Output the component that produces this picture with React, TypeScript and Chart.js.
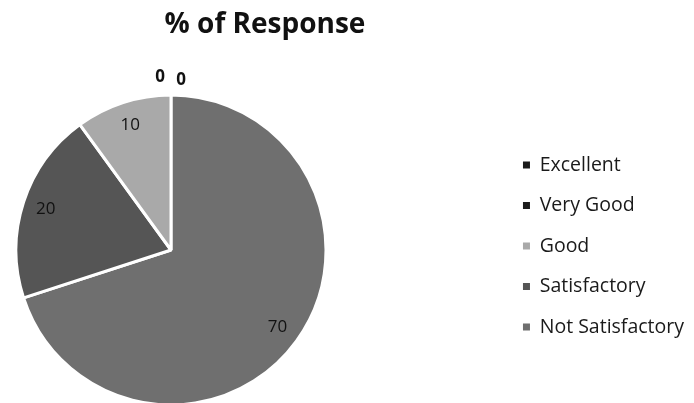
import React, { useEffect, useRef } from "react";
import { Chart, registerables } from "chart.js";

Chart.register(...registerables);

const TITLE = "% of Response";
// data order follows the clockwise slice order from 12 o'clock; legend is shown reversed
const categories = ["Not Satisfactory", "Satisfactory", "Good", "Very Good", "Excellent"];
const values = [70, 20, 10, 0, 0];
const sliceColors = ["#6f6f6f", "#555555", "#a9a9a9", "#1c1c1c", "#1a1a1a"];

const PIE_CX = 171;
const PIE_CY = 250;
const PIE_R = 155;
const FONT = "'Open Sans'";

const pieArea = {
  id: "pieArea",
  afterLayout(chart: any) {
    const a = chart.chartArea;
    a.left = PIE_CX - PIE_R;
    a.right = PIE_CX + PIE_R;
    a.top = PIE_CY - PIE_R;
    a.bottom = PIE_CY + PIE_R;
    a.width = 2 * PIE_R;
    a.height = 2 * PIE_R;
  },
};

const sliceLabels = {
  id: "sliceLabels",
  afterDatasetsDraw(chart: any) {
    const ctx = chart.ctx;
    const meta = chart.getDatasetMeta(0);
    const data = chart.data.datasets[0].data as number[];
    let zeroIdx = 0;
    meta.data.forEach((arc: any, i: number) => {
      const v = data[i];
      const { x, y, startAngle, endAngle, outerRadius } = arc.getProps(
        ["x", "y", "startAngle", "endAngle", "outerRadius"],
        true
      );
      const mid = (startAngle + endAngle) / 2;
      ctx.save();
      ctx.fillStyle = "#111111";
      ctx.textAlign = "center";
      ctx.textBaseline = "middle";
      if (v > 0) {
        ctx.font = `17px ${FONT}`;
        const r = outerRadius * 0.85;
        ctx.fillText(String(v), x + Math.cos(mid) * r, y + Math.sin(mid) * r);
      } else {
        ctx.font = `bold 17px ${FONT}`;
        const r = outerRadius + 18;
        const dx = zeroIdx === 0 ? 10 : -11;
        const dy = zeroIdx === 0 ? 3 : 0;
        ctx.fillText(String(v), x + Math.cos(mid) * r + dx, y + Math.sin(mid) * r + dy);
        zeroIdx++;
      }
      ctx.restore();
    });
  },
};

export default function App() {
  const ref = useRef<HTMLCanvasElement | null>(null);
  useEffect(() => {
    if (!ref.current) return;
    const baseLabels = (Chart as any).overrides.pie.plugins.legend.labels.generateLabels;
    const chart = new Chart(ref.current, {
      type: "pie",
      data: {
        labels: categories,
        datasets: [
          {
            data: values,
            backgroundColor: sliceColors,
            borderColor: "#ffffff",
            borderWidth: 3,
            radius: PIE_R,
          } as any,
        ],
      },
      options: {
        responsive: false,
        animation: false,
        layout: { padding: { left: 28, right: 0, top: 0, bottom: 0 } },
        plugins: {
          title: {
            display: true,
            text: TITLE,
            fullSize: false,
            color: "#111111",
            font: { family: FONT, size: 28, weight: "bold" },
            padding: { top: 8, bottom: 47.6 },
          },
          legend: {
            position: "right",
            fullSize: false,
            reverse: true,
            labels: {
              boxWidth: 7,
              boxHeight: 7,
              padding: 21,
              color: "#1a1a1a",
              font: { family: FONT, size: 19.5 },
              generateLabels: (c: any) =>
                baseLabels(c).map((l: any) => ({ ...l, lineWidth: 0, strokeStyle: l.fillStyle })),
            },
          },
          tooltip: { enabled: false },
        },
      },
      plugins: [pieArea, sliceLabels],
    });
    return () => chart.destroy();
  }, []);
  return (
    <div style={{ position: "absolute", left: 0, top: 0, width: 694, height: 403, background: "#fff" }}>
      <canvas ref={ref} width={694} height={403} />
    </div>
  );
}
